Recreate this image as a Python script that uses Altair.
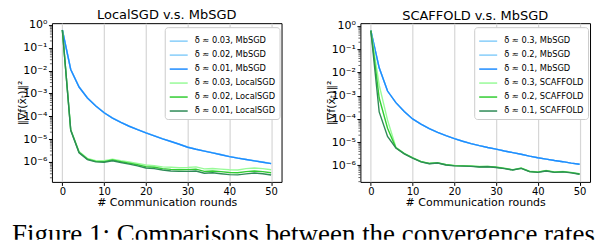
import altair as alt
import pandas as pd
import numpy as np

# ---------------- data (values are log10 of ||grad f||^2) ----------------
rounds = list(range(0, 51, 2))

left_title = "LocalSGD v.s. MbSGD"
left_labels = ["δ ≈ 0.03, MbSGD", "δ ≈ 0.02, MbSGD", "δ ≈ 0.01, MbSGD",
               "δ ≈ 0.03, LocalSGD", "δ ≈ 0.02, LocalSGD", "δ ≈ 0.01, LocalSGD"]
left_mb_003 = [-0.22, -1.94, -2.71, -3.19, -3.54, -3.84, -4.07, -4.26, -4.43, -4.58, -4.72, -4.85, -4.98,
               -5.10, -5.22, -5.35, -5.44, -5.52, -5.60, -5.68, -5.76, -5.83, -5.89, -5.95, -6.01, -6.07]
left_mb_002 = [-0.22, -1.95, -2.72, -3.20, -3.55, -3.85, -4.08, -4.27, -4.44, -4.59, -4.73, -4.86, -4.99,
               -5.11, -5.23, -5.36, -5.45, -5.53, -5.61, -5.69, -5.77, -5.84, -5.90, -5.96, -6.02, -6.08]
left_mb_001 = [-0.22, -1.95, -2.72, -3.20, -3.55, -3.85, -4.08, -4.27, -4.44, -4.59, -4.73, -4.86, -4.99,
               -5.11, -5.23, -5.36, -5.45, -5.53, -5.61, -5.69, -5.77, -5.84, -5.90, -5.96, -6.02, -6.08]
left_loc_003 = [-0.22, -4.58, -5.55, -5.85, -5.95, -5.95, -5.88, -5.95, -6.01, -6.07, -6.14, -6.17, -6.22,
                -6.24, -6.26, -6.25, -6.22, -6.31, -6.29, -6.32, -6.35, -6.36, -6.30, -6.27, -6.30, -6.35]
left_loc_002 = [-0.22, -4.60, -5.58, -5.88, -5.98, -5.99, -5.92, -5.99, -6.06, -6.13, -6.21, -6.24, -6.30,
                -6.33, -6.35, -6.34, -6.32, -6.42, -6.40, -6.43, -6.47, -6.48, -6.43, -6.40, -6.43, -6.48]
left_loc_001 = [-0.22, -4.62, -5.60, -5.90, -6.00, -6.02, -5.95, -6.03, -6.10, -6.18, -6.27, -6.30, -6.36,
                -6.40, -6.42, -6.42, -6.40, -6.50, -6.48, -6.52, -6.56, -6.57, -6.53, -6.49, -6.52, -6.58]

right_title = "SCAFFOLD v.s. MbSGD"
right_labels = ["δ ≈ 0.3, MbSGD", "δ ≈ 0.2, MbSGD", "δ ≈ 0.1, MbSGD",
                "δ ≈ 0.3, SCAFFOLD", "δ ≈ 0.2, SCAFFOLD", "δ ≈ 0.1, SCAFFOLD"]
right_mb_03 = [-0.20, -1.80, -2.80, -3.30, -3.68, -4.00, -4.22, -4.42, -4.58, -4.72, -4.85, -4.96, -5.06,
               -5.15, -5.23, -5.30, -5.38, -5.45, -5.52, -5.60, -5.67, -5.73, -5.79, -5.84, -5.90, -5.95]
right_mb_02 = right_mb_03
right_mb_01 = [-0.20, -1.80, -2.80, -3.30, -3.68, -4.00, -4.22, -4.42, -4.58, -4.72, -4.85, -4.96, -5.06,
               -5.15, -5.23, -5.30, -5.38, -5.45, -5.52, -5.60, -5.67, -5.73, -5.79, -5.84, -5.90, -5.95]
right_sc_03 = [-0.20, -2.55, -4.05, -5.22, -5.48, -5.67, -5.83, -5.91, -5.88, -5.96, -6.00, -6.01, -6.02,
               -6.05, -6.04, -6.07, -6.12, -6.18, -6.11, -6.25, -6.28, -6.22, -6.28, -6.26, -6.30, -6.36]
right_sc_02 = [-0.20, -3.10, -4.40, -5.24, -5.49, -5.68, -5.84, -5.92, -5.89, -5.97, -6.01, -6.02, -6.03,
               -6.06, -6.05, -6.08, -6.13, -6.19, -6.12, -6.26, -6.29, -6.23, -6.29, -6.27, -6.31, -6.37]
right_sc_01 = [-0.20, -3.70, -4.75, -5.25, -5.50, -5.69, -5.85, -5.93, -5.90, -5.98, -6.02, -6.03, -6.04,
               -6.07, -6.06, -6.09, -6.14, -6.20, -6.13, -6.27, -6.30, -6.24, -6.30, -6.28, -6.32, -6.38]

series_colors = ["#87cefa", "#87cefa", "#1e8cff", "#98fb98", "#32cd32", "#2e8b57"]
y_tick_values = [1, 1e-1, 1e-2, 1e-3, 1e-4, 1e-5, 1e-6]
y_tick_labels = ["10⁰", "10⁻¹", "10⁻²", "10⁻³", "10⁻⁴", "10⁻⁵", "10⁻⁶"]
x_tick_values = [0, 10, 20, 30, 40, 50]
x_title = "# Communication rounds"
y_title = "‖∇f(x̄ₜ)‖²"
caption_text = "Figure 1: Comparisons between the convergence rates"

FONT = "DejaVu Sans"
PW, PH = 230, 159
label_expr = "[" + ",".join("'%s'" % s for s in y_tick_labels) + "][round(-log(datum.value)/LN10)]"


def panel(title, labels, series, ylog_lo, ylog_hi, legend_x, legend_y):
    rows = []
    for order, (lab, vals) in enumerate(zip(labels, series)):
        for r, v in zip(rounds, vals):
            rows.append({"round": r, "value": 10.0 ** v, "series": lab, "k": order})
    df = pd.DataFrame(rows)
    yscale = alt.Scale(type="log", domain=[10 ** ylog_lo, 10 ** ylog_hi], nice=False)
    yaxis = alt.Axis(values=y_tick_values, labelExpr=label_expr, title=y_title, grid=False,
                     labelFontSize=11, minExtent=24, maxExtent=24, titlePadding=0, labelPadding=1.5)
    lines = alt.Chart(df).mark_line(strokeWidth=1.4).encode(
        x=alt.X("round:Q", scale=alt.Scale(domain=[-2.5, 52.5], nice=False),
                axis=alt.Axis(values=x_tick_values, title=x_title, grid=True, gridColor="#d6d6d6",
                              gridWidth=1.2, format="d", labelPadding=1.5, titlePadding=0)),
        y=alt.Y("value:Q", scale=yscale, axis=yaxis),
        color=alt.Color("series:N", sort=labels,
                        scale=alt.Scale(domain=labels, range=series_colors),
                        legend=alt.Legend(orient="none", legendX=legend_x, legendY=legend_y, title=None,
                                          symbolType="stroke", symbolSize=324, symbolStrokeWidth=1.5,
                                          labelFontSize=8.3, labelFont=FONT, labelOffset=6, labelLimit=0,
                                          rowPadding=-6, padding=4, fillColor="white",
                                          strokeColor="#cccccc", cornerRadius=3)),
        detail="k:O",
    )
    minor_vals = [m * 10.0 ** e for e in range(-7, 0) for m in range(2, 10)
                  if 10 ** ylog_lo <= m * 10.0 ** e <= 10 ** ylog_hi]
    minor = alt.Chart(pd.DataFrame({"value": minor_vals})).mark_rule(color="black", strokeWidth=0.6).encode(
        y=alt.Y("value:Q", scale=yscale, axis=yaxis),
        x=alt.value(0), x2=alt.value(-2),
    )
    return alt.layer(lines, minor).properties(
        width=PW, height=PH,
        title=alt.TitleParams(title, fontSize=13, fontWeight="normal", font=FONT, offset=-3),
    )


left = panel(left_title, left_labels,
             [left_mb_003, left_mb_002, left_mb_001, left_loc_003, left_loc_002, left_loc_001],
             -6.88, 0.08, 113, 4)
right = panel(right_title, right_labels,
              [right_mb_03, right_mb_02, right_mb_01, right_sc_03, right_sc_02, right_sc_01],
              -6.71, 0.12, 114, 4)

panels = alt.hconcat(left, right, spacing=42).resolve_scale(color="independent").resolve_legend(color="independent")

# invisible 1px anchor so that the row's origin sits at its left edge
anchor = alt.Chart(alt.Data(values=[{"a": 0}])).mark_point(opacity=0).encode(
    x=alt.value(0), y=alt.value(0)
).properties(width=1, height=1, view=alt.ViewBackground(stroke="transparent"))

top = alt.hconcat(anchor, panels, spacing=0)

caption = alt.Chart(alt.Data(values=[{"t": caption_text}])).mark_text(
    clip=True, align="left", baseline="alphabetic", font="Liberation Serif", fontSize=27, color="black"
).encode(text="t:N", x=alt.value(0), y=alt.value(33)).properties(
    width=588, height=30, view=alt.ViewBackground(stroke="transparent")
)

chart = alt.vconcat(top, caption, spacing=0).properties(padding=0).configure_view(
    stroke="black", strokeWidth=1
).configure_axis(
    labelFont=FONT, titleFont=FONT, labelFontSize=10, titleFontSize=11, titleFontWeight="normal",
    labelColor="black", titleColor="black", tickColor="black", tickSize=3.5, tickWidth=1,
    domain=False, labelPadding=2, titlePadding=2,
)

chart.save("out.html", embed_options={"renderer": "svg", "actions": False})
